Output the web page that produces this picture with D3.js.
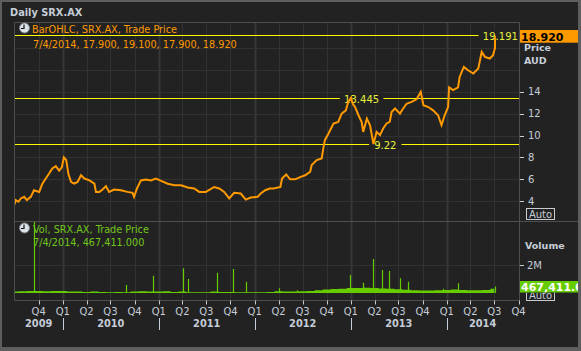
<!DOCTYPE html>
<html>
<head>
<meta charset="utf-8">
<script src="https://cdn.jsdelivr.net/npm/d3@7"></script>
<style>
  body { margin: 0; background: #222; }
  svg { display: block; font-family: "DejaVu Sans", sans-serif; }
</style>
</head>
<body>
<div id="chart"></div>
<script>
// daily SRX.AX closes
const priceDates = [
  "2009-07-01","2009-07-06","2009-07-16","2009-07-25","2009-08-07","2009-08-17","2009-09-01","2009-09-13",
  "2009-10-03","2009-10-15","2009-10-28","2009-11-09","2009-11-22","2009-12-05","2009-12-18","2009-12-28",
  "2010-01-05","2010-01-14","2010-01-22","2010-02-01","2010-02-13","2010-02-26","2010-03-11","2010-03-24",
  "2010-04-12","2010-05-01","2010-05-07","2010-05-20","2010-06-01","2010-06-14","2010-06-26","2010-07-15",
  "2010-08-10","2010-09-04","2010-09-23","2010-09-29","2010-10-10","2010-10-25","2010-11-13","2010-12-02",
  "2010-12-21","2011-01-10","2011-02-04","2011-03-01","2011-03-27","2011-04-21","2011-05-16","2011-06-04",
  "2011-06-29","2011-07-31","2011-08-19","2011-09-07","2011-09-26","2011-10-15","2011-11-09","2011-11-28",
  "2011-12-17","2012-01-12","2012-01-24","2012-02-10","2012-02-28","2012-03-13","2012-04-08","2012-04-14",
  "2012-04-30","2012-05-15","2012-06-03","2012-06-22","2012-07-11","2012-07-30","2012-08-05","2012-08-24",
  "2012-09-12","2012-09-18","2012-09-24","2012-10-08","2012-10-27","2012-11-14","2012-11-27","2012-12-13",
  "2012-12-22","2013-01-02","2013-01-08","2013-01-17","2013-01-30","2013-02-11","2013-02-17","2013-03-03",
  "2013-03-15","2013-03-28","2013-04-09","2013-04-22","2013-05-04","2013-05-17","2013-05-29","2013-06-05",
  "2013-06-18","2013-07-07","2013-07-19","2013-08-01","2013-08-20","2013-09-08","2013-09-24","2013-10-04",
  "2013-10-23","2013-11-10","2013-11-29","2013-12-12","2013-12-24","2014-01-06","2014-01-10","2014-01-25",
  "2014-02-13","2014-02-19","2014-03-07","2014-03-23","2014-04-12","2014-05-01","2014-05-14","2014-05-26",
  "2014-06-14","2014-06-26","2014-07-03","2014-07-04"
];
const priceClose = [
  3.7, 4.1, 3.95, 4.25, 4.4, 4.1, 4.4, 5.0,
  4.85, 5.6, 6.07, 6.5, 7.0, 7.2, 6.8, 7.1,
  8.0, 7.75, 6.5, 5.76, 5.6, 5.76, 6.37, 6.07,
  5.9, 5.6, 4.85, 4.85, 5.07, 5.37, 4.85, 5.07,
  5.0, 4.85, 4.76, 4.4, 5.16, 5.9, 5.98, 5.9,
  6.07, 5.85, 5.6, 5.46, 5.46, 5.25, 5.16, 4.85,
  4.85, 5.3, 5.16, 4.85, 4.25, 4.76, 4.7, 4.15,
  4.34, 4.4, 4.7, 5.0, 5.16, 5.16, 5.3, 6.07,
  6.44, 6.0, 6.0, 6.2, 6.37, 6.68, 7.3, 7.75,
  7.9, 8.8, 9.57, 10.18, 11.1, 11.24, 12.0, 12.3,
  13.07, 13.45, 12.9, 12.6, 11.85, 11.24, 10.33, 11.55,
  10.94, 9.22, 10.33, 10.03, 10.64, 11.1, 11.24, 12.15,
  12.47, 12.0, 12.47, 12.9, 13.07, 13.3, 13.98, 12.77,
  12.6, 12.3, 11.85, 10.95, 11.85, 12.6, 14.4, 14.14,
  14.4, 15.35, 16.26, 15.96, 15.66, 16.12, 17.63, 17.18,
  17.03, 17.33, 17.95, 18.92
];
// last bar from the legend: date, open, high, low, close
const lastBar = ["2014-07-04", 17.9, 19.1, 17.9, 18.92];
const refLevels = [19.191, 13.445, 9.22];
const priceTicks = [4, 6, 8, 10, 12, 14];
const priceGrid = [4, 6, 8, 10, 12, 14, 16, 18];

// volume: typical monthly level (millions) plus the visible spikes
const volMonths = [
  "2009-07","2009-08","2009-09","2009-10","2009-11","2009-12",
  "2010-01","2010-02","2010-03","2010-04","2010-05","2010-06","2010-07","2010-08","2010-09","2010-10","2010-11","2010-12",
  "2011-01","2011-02","2011-03","2011-04","2011-05","2011-06","2011-07","2011-08","2011-09","2011-10","2011-11","2011-12",
  "2012-01","2012-02","2012-03","2012-04","2012-05","2012-06","2012-07","2012-08","2012-09","2012-10","2012-11","2012-12",
  "2013-01","2013-02","2013-03","2013-04","2013-05","2013-06","2013-07","2013-08","2013-09","2013-10","2013-11","2013-12",
  "2014-01","2014-02","2014-03","2014-04","2014-05","2014-06","2014-07"
];
const volBase = [
  0.1, 0.12, 0.15, 0.15, 0.12, 0.15,
  0.15, 0.1, 0.1, 0.08, 0.1, 0.08, 0.06, 0.08, 0.06, 0.1, 0.12, 0.1,
  0.1, 0.12, 0.08, 0.1, 0.06, 0.05, 0.06, 0.1, 0.08, 0.08, 0.06, 0.05,
  0.06, 0.05, 0.08, 0.12, 0.1, 0.1, 0.12, 0.15, 0.2, 0.25, 0.28, 0.3,
  0.35, 0.35, 0.38, 0.35, 0.32, 0.3, 0.26, 0.24, 0.2, 0.18, 0.18, 0.2,
  0.22, 0.25, 0.22, 0.2, 0.2, 0.22, 0.3
];
const spikeDates = [
  "2009-09-15","2010-08-31","2010-12-09","2011-04-04","2011-04-22","2011-08-09","2011-10-12","2011-11-28",
  "2012-04-02","2012-06-11","2012-12-27","2013-02-18","2013-03-28","2013-04-29","2013-05-28","2013-07-08",
  "2013-08-05","2013-12-16","2014-02-13","2014-07-04"
];
const spikeVol = [
  5.6, 0.57, 1.24, 1.76, 1.0, 1.45, 1.71, 0.81,
  0.34, 0.2, 1.29, 0.74, 2.43, 1.64, 1.57, 1.05,
  0.81, 0.3, 0.69, 0.467
];
const volTicks = [2];
const lastVolume = 467411;

const W = 581, H = 351;
const pLeft = 14.5, pRight = 519.5, pTop = 22.5, pSep = 221.5, pBottom = 300.5;
const txt = "#c5cdd8", grid = "#323232", border = "#4e4e4e";
const orange = "#ff9900", green = "#66cc00", yellow = "#ffff00";

const parse = d3.timeParse("%Y-%m-%d");
const price = priceDates.map((d, i) => ({ date: parse(d), close: priceClose[i] }));
const volArea = volMonths.map((m, i) => ({ date: d3.timeParse("%Y-%m")(m), v: volBase[i] * 1e6 }));
const spikes = spikeDates.map((d, i) => ({ date: parse(d), v: spikeVol[i] * 1e6 }));

const x = d3.scaleTime().domain([new Date(2009, 6, 1), new Date(2014, 9, 1)]).range([14.5, 518.5]);
const yP = d3.scaleLinear().domain([4, 14]).range([201.2, 91.7]);
const yV = d3.scaleLinear().domain([0, 2e6]).range([293, 265]);

const svg = d3.select("#chart").append("svg").attr("width", W).attr("height", H);

// window frame
svg.append("rect").attr("width", W).attr("height", H).attr("fill", "#5e5e5e");
svg.append("rect").attr("x", 2).attr("y", 2).attr("width", 576).attr("height", 345).attr("fill", "#222");

svg.append("text").attr("x", 10).attr("y", 16).attr("fill", txt)
  .style("font-size", "9.8px").style("font-weight", "bold").text("Daily SRX.AX");

// grid
const quarters = x.ticks(d3.timeMonth.every(3)).filter(d => x(d) > pLeft + 5);
const years = quarters.filter(d => d.getMonth() === 0);
svg.append("g").selectAll("line").data(quarters).join("line")
  .attr("x1", d => Math.round(x(d)) + 0.5).attr("x2", d => Math.round(x(d)) + 0.5)
  .attr("y1", pTop).attr("y2", pBottom)
  .attr("stroke", d => d.getMonth() === 0 ? "#363636" : grid)
  .attr("stroke-width", d => d.getMonth() === 0 ? 2 : 1);
svg.append("g").selectAll("line").data(priceGrid).join("line")
  .attr("x1", pLeft).attr("x2", pRight)
  .attr("y1", d => Math.round(yP(d)) + 0.5).attr("y2", d => Math.round(yP(d)) + 0.5)
  .attr("stroke", grid);
svg.append("g").selectAll("line").data(volTicks).join("line")
  .attr("x1", pLeft).attr("x2", pRight)
  .attr("y1", d => Math.round(yV(d * 1e6)) + 0.5).attr("y2", d => Math.round(yV(d * 1e6)) + 0.5)
  .attr("stroke", grid);

// clips
const defs = svg.append("defs");
defs.append("clipPath").attr("id", "clipP").append("rect")
  .attr("x", pLeft).attr("y", pTop).attr("width", pRight - pLeft).attr("height", pSep - pTop);
defs.append("clipPath").attr("id", "clipV").append("rect")
  .attr("x", pLeft).attr("y", pSep).attr("width", pRight - pLeft).attr("height", pBottom - pSep);

// reference lines with labels
const refLabelDates = [new Date(2014, 6, 24), new Date(2013, 1, 11), new Date(2013, 4, 12)];
const refG = svg.append("g");
refLevels.forEach((lv, i) => {
  const yy = Math.round(yP(lv)) + 0.5;
  refG.append("line").attr("x1", pLeft).attr("x2", pRight).attr("y1", yy).attr("y2", yy)
    .attr("stroke", yellow).attr("stroke-width", 1);
  const label = String(lv);
  const cx = x(refLabelDates[i]);
  const w = label.length * 5.6 + 10;
  refG.append("rect").attr("x", cx - w / 2).attr("y", yy - 6).attr("width", w).attr("height", 12)
    .attr("fill", "#222");
  refG.append("text").attr("x", cx).attr("y", yy + 4).attr("text-anchor", "middle")
    .attr("fill", "#e8f23c").style("font-size", "10px").text(label);
});

// price line
const pg = svg.append("g").attr("clip-path", "url(#clipP)");
pg.append("path").datum(price)
  .attr("d", d3.line().x(d => x(d.date)).y(d => yP(d.close)))
  .attr("fill", "none").attr("stroke", orange).attr("stroke-width", 2)
  .attr("stroke-linejoin", "miter");
pg.append("line")
  .attr("x1", x(parse(lastBar[0]))).attr("x2", x(parse(lastBar[0])))
  .attr("y1", yP(lastBar[2])).attr("y2", yP(lastBar[3]))
  .attr("stroke", orange).attr("stroke-width", 1.5);

// volume
const vg = svg.append("g").attr("clip-path", "url(#clipV)");
vg.append("path").datum(volArea)
  .attr("d", d3.area().x(d => x(d.date)).y0(yV(0)).y1(d => yV(d.v)).curve(d3.curveStep))
  .attr("fill", green);
vg.selectAll("line.sp").data(spikes).join("line")
  .attr("x1", d => Math.round(x(d.date)) + 0.5).attr("x2", d => Math.round(x(d.date)) + 0.5)
  .attr("y1", yV(0)).attr("y2", d => yV(d.v))
  .attr("stroke", green).attr("stroke-width", 1.2);

// panel borders
const bg = svg.append("g").attr("stroke", border).attr("fill", "none");
bg.append("line").attr("x1", pLeft).attr("x2", pRight).attr("y1", pTop).attr("y2", pTop);
bg.append("line").attr("x1", pLeft).attr("x2", pLeft).attr("y1", pTop).attr("y2", pBottom);
bg.append("line").attr("x1", pRight).attr("x2", pRight).attr("y1", pTop).attr("y2", pBottom);
bg.append("line").attr("x1", pLeft).attr("x2", 578).attr("y1", pSep).attr("y2", pSep);
bg.append("line").attr("x1", pLeft).attr("x2", pRight).attr("y1", pBottom).attr("y2", pBottom);

// legends
function clock(cx, cy) {
  svg.append("circle").attr("cx", cx).attr("cy", cy).attr("r", 5)
    .attr("fill", "#dce1e8").attr("stroke", "#7a8290");
  svg.append("path").attr("d", `M${cx - 0.5},${cy - 3.5}V${cy + 0.5}H${cx - 3.5}`)
    .attr("stroke", "#111").attr("fill", "none").attr("stroke-width", 1.2);
}
clock(24.5, 28);
svg.append("text").attr("x", 32).attr("y", 33.3).attr("fill", orange).style("font-size", "9.7px")
  .text("BarOHLC, SRX.AX, Trade Price");
svg.append("text").attr("x", 33).attr("y", 47.5).attr("fill", orange).style("font-size", "9.7px")
  .text(`7/4/2014, ${lastBar.slice(1).map(v => v.toFixed(3)).join(", ")}`);
clock(24.5, 228);
svg.append("text").attr("x", 33).attr("y", 232.7).attr("fill", "#72c81a").style("font-size", "9.7px")
  .text("Vol, SRX.AX, Trade Price");
svg.append("text").attr("x", 33).attr("y", 246).attr("fill", "#72c81a").style("font-size", "9.7px")
  .text(`7/4/2014, ${d3.format(",.3f")(lastVolume)}`);

// price axis
const pa = svg.append("g");
pa.selectAll("line").data(priceTicks).join("line")
  .attr("x1", 520).attr("x2", 524)
  .attr("y1", d => Math.round(yP(d)) + 0.5).attr("y2", d => Math.round(yP(d)) + 0.5)
  .attr("stroke", txt);
pa.selectAll("text").data(priceTicks).join("text")
  .attr("x", 528).attr("y", d => yP(d) + 3.6).attr("fill", txt).style("font-size", "10px")
  .text(d => d);
svg.append("rect").attr("x", 520).attr("y", 30).attr("width", 58).attr("height", 12.7).attr("fill", orange);
svg.append("text").attr("x", 521).attr("y", 40.5).attr("fill", "#000")
  .style("font-size", "11px").style("font-weight", "bold").text(lastBar[4].toFixed(3));
svg.append("text").attr("x", 524).attr("y", 51).attr("fill", txt)
  .style("font-size", "9.5px").style("font-weight", "bold").text("Price");
svg.append("text").attr("x", 524).attr("y", 64.3).attr("fill", txt)
  .style("font-size", "9.5px").style("font-weight", "bold").text("AUD");

function autoBox(yTop, clipId) {
  const g = svg.append("g");
  if (clipId) g.attr("clip-path", `url(#${clipId})`);
  g.append("rect").attr("x", 526.5).attr("y", yTop + 0.5).attr("width", 28).attr("height", 11)
    .attr("fill", "#222").attr("stroke", "#c8ccd2");
  g.append("text").attr("x", 540.5).attr("y", yTop + 9.5).attr("text-anchor", "middle")
    .attr("fill", txt).style("font-size", "10px").text("Auto");
}
autoBox(208);

// volume axis
svg.append("text").attr("x", 525).attr("y", 249.3).attr("fill", txt)
  .style("font-size", "9.5px").style("font-weight", "bold").text("Volume");
const va = svg.append("g");
va.selectAll("line").data(volTicks).join("line")
  .attr("x1", 520).attr("x2", 524)
  .attr("y1", d => Math.round(yV(d * 1e6)) + 0.5).attr("y2", d => Math.round(yV(d * 1e6)) + 0.5)
  .attr("stroke", txt);
va.selectAll("text").data(volTicks).join("text")
  .attr("x", 527).attr("y", d => yV(d * 1e6) + 3.6).attr("fill", txt).style("font-size", "10px")
  .text(d => d + "M");
svg.append("line").attr("x1", 520).attr("x2", 524).attr("y1", yV(0) - 1.5).attr("y2", yV(0) - 1.5)
  .attr("stroke", txt);
// lower Auto box sits partly under the last-value label
defs.append("clipPath").attr("id", "clipAuto").append("rect")
  .attr("x", 520).attr("y", 292.5).attr("width", 58).attr("height", 10);
autoBox(289, "clipAuto");
defs.append("clipPath").attr("id", "clipVal").append("rect")
  .attr("x", 520).attr("y", 281).attr("width", 58).attr("height", 11.5);
svg.append("rect").attr("x", 520).attr("y", 281).attr("width", 58).attr("height", 11.5).attr("fill", green);
svg.append("text").attr("clip-path", "url(#clipVal)").attr("x", 521).attr("y", 291)
  .attr("fill", "#fff").style("font-size", "11px").style("font-weight", "bold")
  .text(d3.format(",.3f")(lastVolume));

// time axis
const ta = svg.append("g");
ta.selectAll("line").data(quarters).join("line")
  .attr("x1", d => Math.round(x(d)) + 0.5).attr("x2", d => Math.round(x(d)) + 0.5)
  .attr("y1", pBottom).attr("y2", pBottom + 4).attr("stroke", txt);
ta.selectAll("text").data(quarters).join("text")
  .attr("x", d => x(d)).attr("y", 315).attr("text-anchor", "middle")
  .attr("fill", txt).style("font-size", "10px")
  .text(d => "Q" + (Math.floor(d.getMonth() / 3) + 1));
svg.append("g").selectAll("line").data(years).join("line")
  .attr("x1", d => Math.round(x(d)) + 0.5).attr("x2", d => Math.round(x(d)) + 0.5)
  .attr("y1", 318).attr("y2", 330).attr("stroke", txt);
const yearSpans = d3.range(2009, 2015).map(yr => {
  const a = Math.max(x(new Date(yr, 0, 1)), x.range()[0]);
  const b = Math.min(x(new Date(yr + 1, 0, 1)), x.range()[1]);
  return { yr, mid: (a + b) / 2 };
});
svg.append("g").selectAll("text").data(yearSpans).join("text")
  .attr("x", d => d.mid).attr("y", 327.3).attr("text-anchor", "middle")
  .attr("fill", txt).style("font-size", "9.8px").style("font-weight", "bold")
  .text(d => d.yr);
</script>
</body>
</html>
